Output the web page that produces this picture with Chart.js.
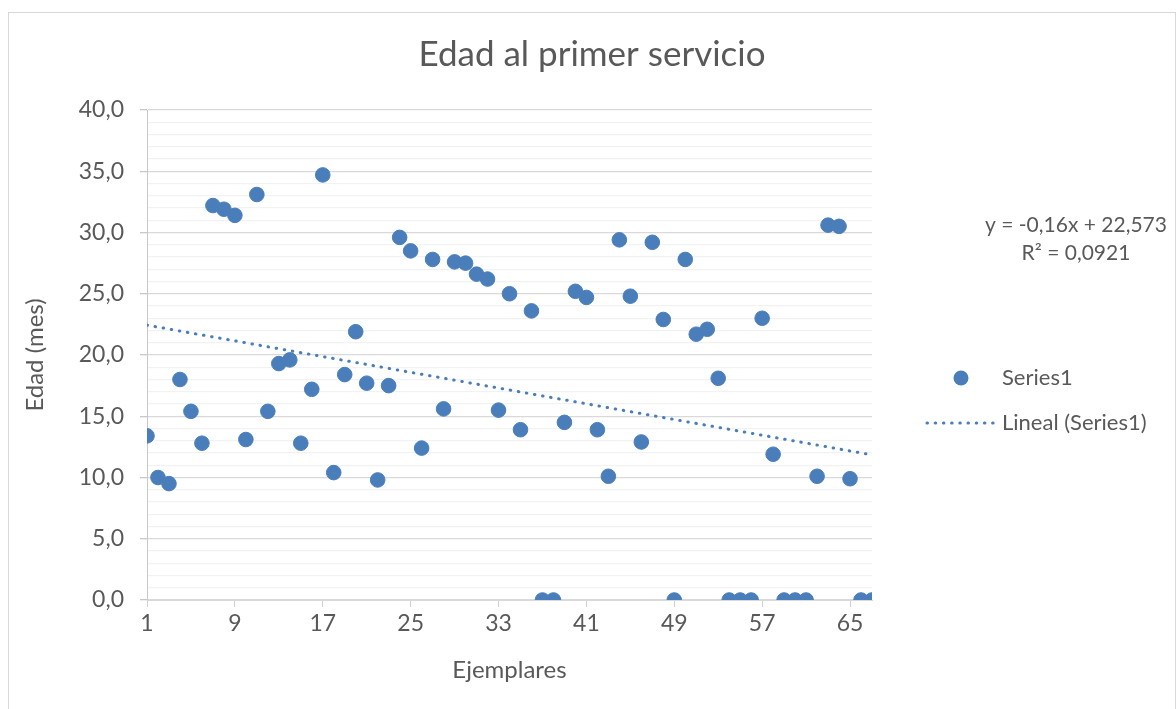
<!DOCTYPE html>
<html>
<head>
<meta charset="utf-8">
<script src="https://cdn.jsdelivr.net/npm/chart.js@4/dist/chart.umd.min.js"></script>
<style>
  body { margin: 0; background: #fff; }
  #wrap { position: relative; width: 1176px; height: 709px; overflow: hidden; }
  #frame { position: absolute; left: 8px; top: 12px; width: 1166px; height: 720px; border: 1px solid #d9d9d9; }
  canvas { position: absolute; left: 0; top: 0; }
</style>
</head>
<body>
<div id="wrap">
  <div id="frame"></div>
  <canvas id="chart" width="1176" height="709"></canvas>
</div>
<script>
// Edad al primer servicio (mes), ejemplares 1..67
const edades = [
  13.4, 10.0, 9.5, 18.0, 15.4, 12.8, 32.2, 31.9, 31.4, 13.1,
  33.1, 15.4, 19.3, 19.6, 12.8, 17.2, 34.7, 10.4, 18.4, 21.9,
  17.7, 9.8, 17.5, 29.6, 28.5, 12.4, 27.8, 15.6, 27.6, 27.5,
  26.6, 26.2, 15.5, 25.0, 13.9, 23.6, 0, 0, 14.5, 25.2,
  24.7, 13.9, 10.1, 29.4, 24.8, 12.9, 29.2, 22.9, 0, 27.8,
  21.7, 22.1, 18.1, 0, 0, 0, 23.0, 11.9, 0, 0,
  0, 10.1, 30.6, 30.5, 9.9, 0, 0
];
const ejemplares = edades.map((_, i) => i + 1);
const xTicks = [1, 9, 17, 25, 33, 41, 49, 57, 65];
const yMajorStep = 5;

const textColor = '#595959';
const blue = '#4a7ebb';
const fontFamily = 'Lato, "Open Sans", sans-serif';

// regresión lineal (línea de tendencia)
const n = edades.length;
const mx = ejemplares.reduce((s, v) => s + v, 0) / n;
const my = edades.reduce((s, v) => s + v, 0) / n;
let sxy = 0, sxx = 0;
ejemplares.forEach((x, i) => { sxy += (x - mx) * (edades[i] - my); sxx += (x - mx) * (x - mx); });
const slope = sxy / sxx;
const intercept = my - slope * mx;
const xMin = ejemplares[0], xMax = ejemplares[n - 1];
const trendData = [xMin, xMax].map(x => ({ x: x, y: slope * x + intercept }));

const fmt = v => v.toFixed(1).replace('.', ',');

// título, ecuación y leyenda dibujados a mano (como en Excel)
const extrasPlugin = {
  id: 'extras',
  afterDraw(chart) {
    const ctx = chart.ctx;
    ctx.save();
    ctx.fillStyle = textColor;
    ctx.textBaseline = 'middle';
    ctx.textAlign = 'center';
    ctx.font = '35px ' + fontFamily;
    ctx.fillText('Edad al primer servicio', 592, 55);

    ctx.font = '21px ' + fontFamily;
    ctx.fillText('y = -0,16x + 22,573', 1076, 225);
    ctx.fillText('R² = 0,0921', 1076, 253);

    // leyenda
    ctx.beginPath();
    ctx.arc(961, 378, 7.5, 0, Math.PI * 2);
    ctx.fillStyle = blue;
    ctx.fill();
    ctx.strokeStyle = blue;
    ctx.lineWidth = 3;
    ctx.lineCap = 'round';
    ctx.setLineDash([0.5, 7.7]);
    ctx.beginPath();
    ctx.moveTo(927, 423);
    ctx.lineTo(996, 423);
    ctx.stroke();
    ctx.setLineDash([]);
    ctx.fillStyle = textColor;
    ctx.textAlign = 'left';
    ctx.font = '22px ' + fontFamily;
    ctx.fillText('Series1', 1002, 378);
    ctx.fillText('Lineal (Series1)', 1002, 423);
    ctx.restore();
  }
};

new Chart(document.getElementById('chart'), {
  type: 'scatter',
  data: {
    datasets: [
      {
        label: 'Lineal (Series1)',
        data: trendData,
        showLine: true,
        borderColor: blue,
        borderWidth: 3,
        borderDash: [0.5, 7.7],
        borderCapStyle: 'round',
        pointRadius: 0,
        fill: false,
        order: 2
      },
      {
        label: 'Series1',
        data: ejemplares.map((x, i) => ({ x: x, y: edades[i] })),
        backgroundColor: blue,
        borderColor: blue,
        borderWidth: 1,
        pointRadius: 7.3,
        order: 1
      }
    ]
  },
  options: {
    responsive: false,
    animation: false,
    layout: { padding: { left: 0, right: 304, top: 110, bottom: 0 } },
    plugins: {
      legend: { display: false },
      title: { display: false },
      tooltip: { enabled: false }
    },
    scales: {
      x: {
        type: 'linear',
        min: xMin,
        max: xMax,
        afterBuildTicks: (scale) => { scale.ticks = xTicks.map(v => ({ value: v })); },
        afterFit: (scale) => { scale.height = 109; },
        ticks: { color: textColor, font: { family: fontFamily, size: 23 }, padding: 3, maxRotation: 0 },
        grid: { drawOnChartArea: false, color: '#d0d0d0', tickLength: 7 },
        border: { color: '#d9d9d9' },
        title: { display: true, text: 'Ejemplares', color: textColor, font: { family: fontFamily, size: 24 }, padding: { top: 0, bottom: 24 } }
      },
      y: {
        min: 0,
        max: 40,
        afterFit: (scale) => { scale.width = 147; },
        ticks: {
          stepSize: 1,
          autoSkip: false,
          color: textColor,
          font: { family: fontFamily, size: 23 },
          padding: 16,
          callback: v => (v % yMajorStep === 0 ? fmt(v) : '')
        },
        grid: {
          color: c => (c.tick && c.tick.value % yMajorStep === 0 ? '#d9d9d9' : '#f2f2f2'),
          tickColor: c => (c.tick && c.tick.value % yMajorStep === 0 ? '#c8c8c8' : 'rgba(0,0,0,0)'),
          tickLength: 7,
          lineWidth: 1.3
        },
        border: { color: '#c8c8c8' },
        title: { display: true, text: 'Edad (mes)', color: textColor, font: { family: fontFamily, size: 24 }, padding: { top: 21, bottom: 0 } }
      }
    }
  },
  plugins: [extrasPlugin]
});
</script>
</body>
</html>
